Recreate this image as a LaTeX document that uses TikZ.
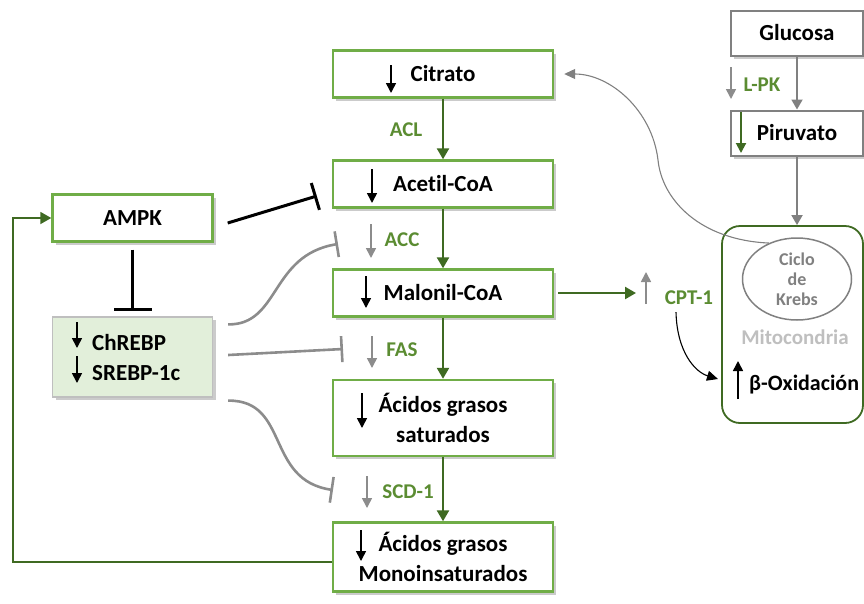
\documentclass[tikz,border=0pt]{standalone}
\usepackage{fontspec}
\setmainfont{Carlito}[Ligatures=NoCommon]
\usepackage{tikz}
\usetikzlibrary{arrows.meta,calc,positioning,shapes.geometric,shadows}
\definecolor{boxgreen}{HTML}{70AD47}
\definecolor{darkgreen}{HTML}{3F6A22}
\definecolor{labgreen}{HTML}{5B8C32}
\definecolor{midgray}{HTML}{8C8C8C}
\definecolor{boxgray}{HTML}{808080}
\definecolor{softgray}{HTML}{BFBFBF}
\definecolor{genebg}{HTML}{E2EFDA}
\tikzset{
  every picture/.style={font=\bfseries},
  bigtxt/.style={font=\bfseries\fontsize{23}{30}\selectfont},
  stepbox/.style={draw=boxgreen,line width=2.4pt,fill=white,minimum width=220pt,minimum height=47pt,inner sep=0pt,align=center,bigtxt,
    drop shadow={shadow xshift=3pt,shadow yshift=-3pt,fill=black!45,opacity=.45}},
  graybox/.style={stepbox,draw=boxgray,line width=2pt,minimum width=132pt,minimum height=45pt},
  genebox/.style={stepbox,draw=softgray,line width=1.2pt,fill=genebg,minimum width=160pt,minimum height=80pt},
  enz/.style={font=\bfseries\fontsize{21}{24}\selectfont,text=labgreen,inner sep=1pt},
  flow/.style={-{Triangle[length=11pt,width=12pt]},draw=darkgreen,line width=2.4pt},
  grayflow/.style={-{Triangle[length=10pt,width=11pt]},draw=boxgray,line width=1.8pt},
  thinflow/.style={-{Triangle[length=11pt,width=10pt]},line width=1.1pt},
  block/.style={-{Bar[width=28pt]},line width=3pt,draw=black},
  grayblock/.style={-{Bar[width=26pt]},line width=2.6pt,draw=midgray},
  dn/.style={-{Triangle[length=10pt,width=10pt]},line width=1.6pt},
}
\begin{document}
\begin{tikzpicture}[x=1pt,y=-1pt]
  \useasboundingbox (0,0) rectangle (864,603);
  % central pathway
  \node[stepbox] (citr) at (443,74) {Citrato};
  \node[stepbox] (acet) at (443,184) {Acetil-CoA};
  \node[stepbox] (malo) at (443,293) {Malonil-CoA};
  \node[stepbox,minimum height=76pt] (satu) at (443,418) {Ácidos grasos\\saturados};
  \node[stepbox,minimum height=69pt] (mono) at (443,557) {Ácidos grasos\\Monoinsaturados};
  \node[enz] (acl) at (406,130) {ACL};
  \node[enz] (acc) at (402,240) {ACC};
  \node[enz] (fas) at (402,350) {FAS};
  \node[enz] (scd) at (408,492) {SCD-1};
  \draw[flow] (citr) -- (acet);
  \draw[flow] (acet) -- (malo);
  \draw[flow] (malo) -- (satu);
  \draw[flow] (satu) -- (mono);
  \foreach \x/\ya/\yb in {391/65/93,372/169/203,366/276/308,362/393/428,361/530/561} \draw[dn] (\x,\ya) -- (\x,\yb);
  \foreach \x/\ya/\yb in {371/224/258,372/336/368,367/476/508} \draw[dn,draw=midgray] (\x,\ya) -- (\x,\yb);

  % regulators on the left
  \node[stepbox,minimum width=160pt] (ampk) at (132.5,218) {AMPK};
  \node[genebox] (crb) at (132.5,357) {};
  \node[bigtxt,align=left,anchor=west,inner sep=0pt] (crbtxt) at (92,358) {ChREBP\\SREBP-1c};
  \draw[dn] (77,322) -- (77,348);
  \draw[dn] (77,356) -- (77,383);
  \coordinate (accin) at (338,244);
  \coordinate (fasin) at (343,349);
  \coordinate (scdin) at (333,490);
  \draw[block] ([xshift=14pt,yshift=-5pt]ampk.east) -- ([xshift=-15pt,yshift=-12pt]acet.west);
  \draw[block,-{Bar[width=38pt]}] ([yshift=-7pt]ampk.south) -- ([yshift=5pt]crb.north);
  \draw[grayblock] ([xshift=15pt,yshift=-8pt]crb.north east) .. controls (280,325) and (270,255) .. (accin);
  \draw[grayblock] ([xshift=15pt,yshift=2pt]crb.east) -- (fasin);
  \draw[grayblock] ([xshift=15pt,yshift=-3pt]crb.south east) .. controls (290,400) and (265,480) .. (scdin);
  \coordinate (fbk) at (13,0);
  \draw[flow,line width=1.8pt] ([yshift=-5pt]mono.west) -| (fbk |- ampk.west) -- (ampk.west);

  % glycolysis and mitochondrion
  \node[graybox] (gluc) at (797,33) {Glucosa};
  \node[graybox] (piru) at (797,133) {Piruvato};
  \node[enz] (lpk) at (762,85) {L-PK};
  \draw[dn,draw=midgray] (731,67) -- (731,99);
  \draw[dn,draw=darkgreen,line width=2pt] (741,112) -- (741,153);
  \node[draw=darkgreen,line width=1.8pt,rounded corners=18pt,minimum width=141pt,minimum height=197pt] (mito) at (792.5,324.5) {};
  \node[ellipse,draw=boxgray,line width=1.5pt,minimum width=109pt,minimum height=82pt,inner sep=0pt,align=center,
    font=\bfseries\fontsize{18}{20}\selectfont,text=boxgray] (krebs) at (797,279) {Ciclo\\de\\Krebs};
  \node[font=\bfseries\fontsize{21}{24}\selectfont,text=softgray] (mitolab) at (795,337) {Mitocondria};
  \node[font=\bfseries\fontsize{22}{26}\selectfont,anchor=west,inner sep=0pt] (betox) at (749,385) {β-Oxidación};
  \draw[dn] (738,399) -- (738,361);
  \draw[grayflow] (gluc) -- (piru);
  \draw[grayflow] (piru.south) -- (piru.south |- mito.north);
  \draw[thinflow,draw=boxgray] (krebs.128) .. controls (700,240) and (662,200) .. (658,160)
    .. controls (652,110) and (610,74) .. ([xshift=10pt]citr.east);

  % fatty acid oxidation
  \node[enz] (cpt) at (689,298) {CPT-1};
  \coordinate (cptin) at (636,293);
  \coordinate (betain) at (718,379);
  \draw[flow] ([xshift=4pt]malo.east) -- (cptin);
  \draw[dn,draw=midgray] (646,304) -- (646,272);
  \draw[thinflow] ([xshift=-13pt,yshift=-6pt]cpt.south) .. controls (677,352) and (695,372) .. (betain);
\end{tikzpicture}
\end{document}
